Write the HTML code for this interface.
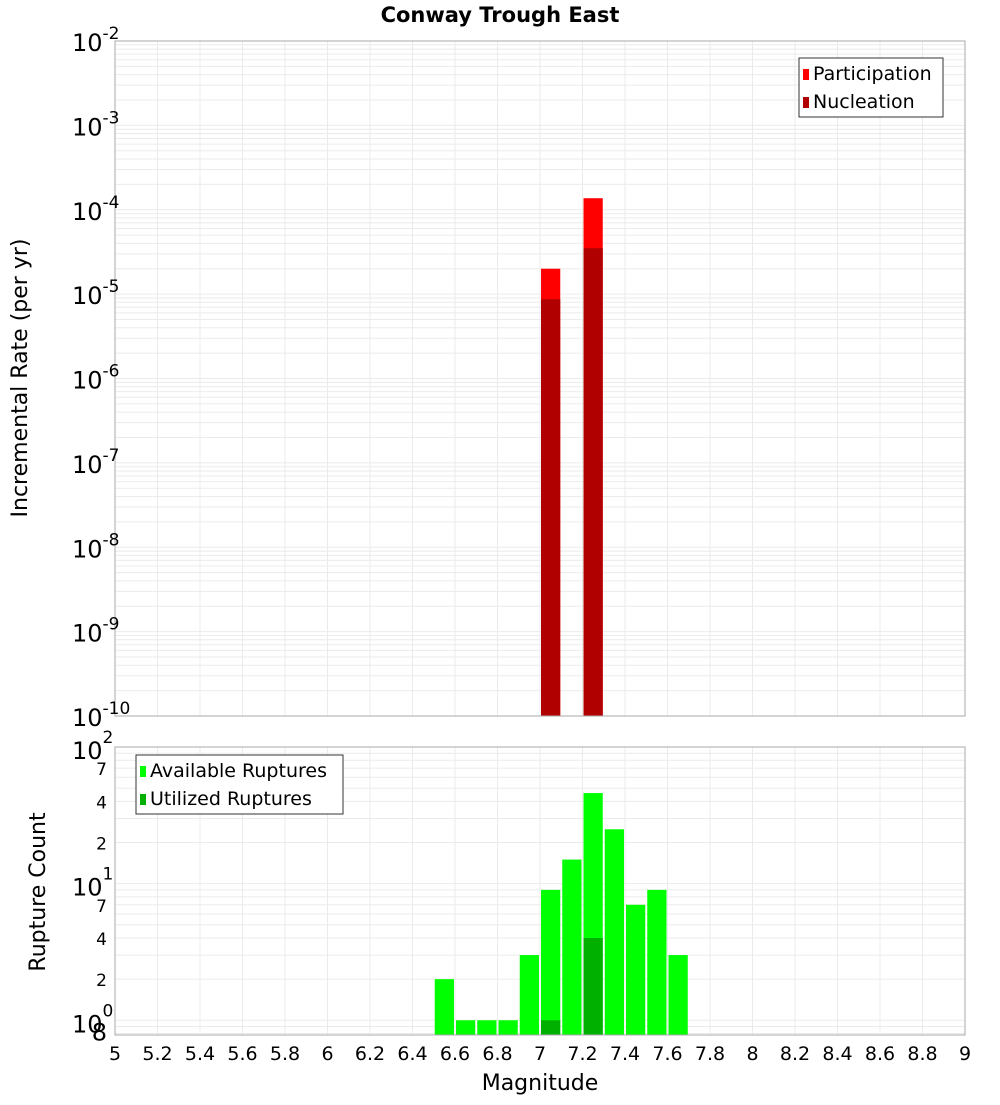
<!DOCTYPE html>
<html><head><meta charset="utf-8"><style>
body{margin:0;background:#fff;font-family:"Liberation Sans","DejaVu Sans",sans-serif}
svg text{font-family:"DejaVu Sans","Liberation Sans",sans-serif}
</style></head><body>
<svg id="c" width="1000" height="1100" xmlns="http://www.w3.org/2000/svg">
<text x="500" y="22" text-anchor="middle" font-size="21" font-weight="bold">Conway Trough East</text>
<text transform="translate(27,378) rotate(-90)" text-anchor="middle" font-size="22">Incremental Rate (per yr)</text>
<text transform="translate(45,892) rotate(-90)" text-anchor="middle" font-size="22">Rupture Count</text>
<text x="540" y="1090" text-anchor="middle" font-size="22">Magnitude</text>
</svg>
<script>
const rateMags=[7.05,7.25];
const participation=[2.0e-5,1.37e-4];
const nucleation=[8.7e-6,3.5e-5];
const countMags=[6.55,6.65,6.75,6.85,6.95,7.05,7.15,7.25,7.35,7.45,7.55,7.65];
const available=[2,1,1,1,3,9,15,46,25,7,9,3];
const utilizedMags=[7.05,7.25];
const utilized=[1,4];
const xTicks=["5","5.2","5.4","5.6","5.8","6","6.2","6.4","6.6","6.8","7","7.2","7.4","7.6","7.8","8","8.2","8.4","8.6","8.8","9"];

const svg=document.getElementById('c');
const NS='http://www.w3.org/2000/svg';
function mk(t,a,p){const e=document.createElementNS(NS,t);for(const k in a)e.setAttribute(k,a[k]);(p||svg).appendChild(e);return e;}
const X0=115,X1=965;
const x=m=>X0+(m-5)/4*(X1-X0);
// top axis
const T0=41,T1=716;
const yTop=v=>T1-(Math.log10(v)+10)/8*(T1-T0);
// bottom axis
const B0=747,B1=1035,BLO=0.78,BHI=100;
const yBot=v=>B1-(Math.log10(v)-Math.log10(BLO))/(Math.log10(BHI)-Math.log10(BLO))*(B1-B0);

// grids
const g=mk('g',{});


for(let i=0;i<=20;i++){const xx=x(5+i*0.2);
 mk('line',{x1:xx,x2:xx,y1:T0,y2:T1,stroke:'#ebebeb'},g);
 mk('line',{x1:xx,x2:xx,y1:B0,y2:B1,stroke:'#ebebeb'},g);}
for(let d=-10;d<-2;d++)for(let k=1;k<10;k++){const yy=yTop(k*Math.pow(10,d));
 mk('line',{x1:X0,x2:X1,y1:yy,y2:yy,stroke:'#ebebeb'},g);}
for(let d=-1;d<2;d++)for(let k=1;k<10;k++){const v=k*Math.pow(10,d);if(v<BLO||v>BHI)continue;const yy=yBot(v);
 mk('line',{x1:X0,x2:X1,y1:yy,y2:yy,stroke:'#ebebeb'},g);}

// top bars
const bw=0.1*(X1-X0)/4;
rateMags.forEach((m,i)=>{
 const r=mk('rect',{x:x(m)-bw/2+1,width:bw-2,y:yTop(participation[i]),height:T1-yTop(participation[i]),fill:'#ff0000'});
 
 
});
rateMags.forEach((m,i)=>{
 const r=mk('rect',{x:x(m)-bw/2+1,width:bw-2,y:yTop(nucleation[i]),height:T1-yTop(nucleation[i]),fill:'#b00000'});
 
 
});
// bottom bars
countMags.forEach((m,i)=>{
 const r=mk('rect',{x:x(m)-bw/2+1,width:bw-2,y:yBot(available[i]),height:B1-yBot(available[i]),fill:'#00ff00'});
 
 
});
utilizedMags.forEach((m,i)=>{
 const r=mk('rect',{x:x(m)-bw/2+1,width:bw-2,y:yBot(utilized[i]),height:B1-yBot(utilized[i]),fill:'#00b000'});
 
 
});

// frames
mk('rect',{x:X0,y:T0,width:X1-X0,height:T1-T0,fill:'none',stroke:'#aaa'});
mk('rect',{x:X0,y:B0,width:X1-X0,height:B1-B0,fill:'none',stroke:'#aaa'});

// top y labels
for(let d=-10;d<=-2;d++){const yy=yTop(Math.pow(10,d));
 const t=mk('text',{x:72,y:yy+10,'font-size':24});
 
 
 t.textContent='10';
 const s=mk('tspan',{dy:-12,'font-size':17},t);s.textContent=String(d);}
// bottom y labels
[[1,'0'],[10,'1'],[100,'2']].forEach(([v,e])=>{const yy=yBot(v);
 const t=mk('text',{x:72,y:yy+12,'font-size':24});
 
 
 t.textContent='10';
 const s=mk('tspan',{dy:-16,'font-size':17},t);s.textContent=e;});
[[0.8,'8',24],[2,'2',17],[4,'4',17],[7,'7',17],[20,'2',17],[40,'4',17],[70,'7',17]].forEach(([v,l,fs])=>{
 const t=mk('text',{x:107,y:yBot(v)+7,'font-size':fs,'text-anchor':'end'});
 
 
 t.textContent=l;});
// x labels
xTicks.forEach(l=>{
 const t=mk('text',{x:x(parseFloat(l)),y:1060,'font-size':19,'text-anchor':'middle'});
 
 
 t.textContent=l;});

// legends
function legend(x0,y0,w,items,name){
 const lg=mk('g',{});
 
 
 mk('rect',{x:x0,y:y0,width:w,height:59,fill:'#fff',stroke:'#333'},lg);
 items.forEach(([c,l],i)=>{
  mk('rect',{x:x0+4,y:y0+11+i*28,width:6,height:11,fill:c},lg);
  const t=mk('text',{x:x0+14,y:y0+22+i*28,'font-size':19},lg);t.textContent=l;});
}
legend(799,58,144,[['#ff0000','Participation'],['#b00000','Nucleation']],'top-legend');
legend(136,755,207,[['#00ff00','Available Ruptures'],['#00b000','Utilized Ruptures']],'bottom-legend');
</script>
</body></html>
